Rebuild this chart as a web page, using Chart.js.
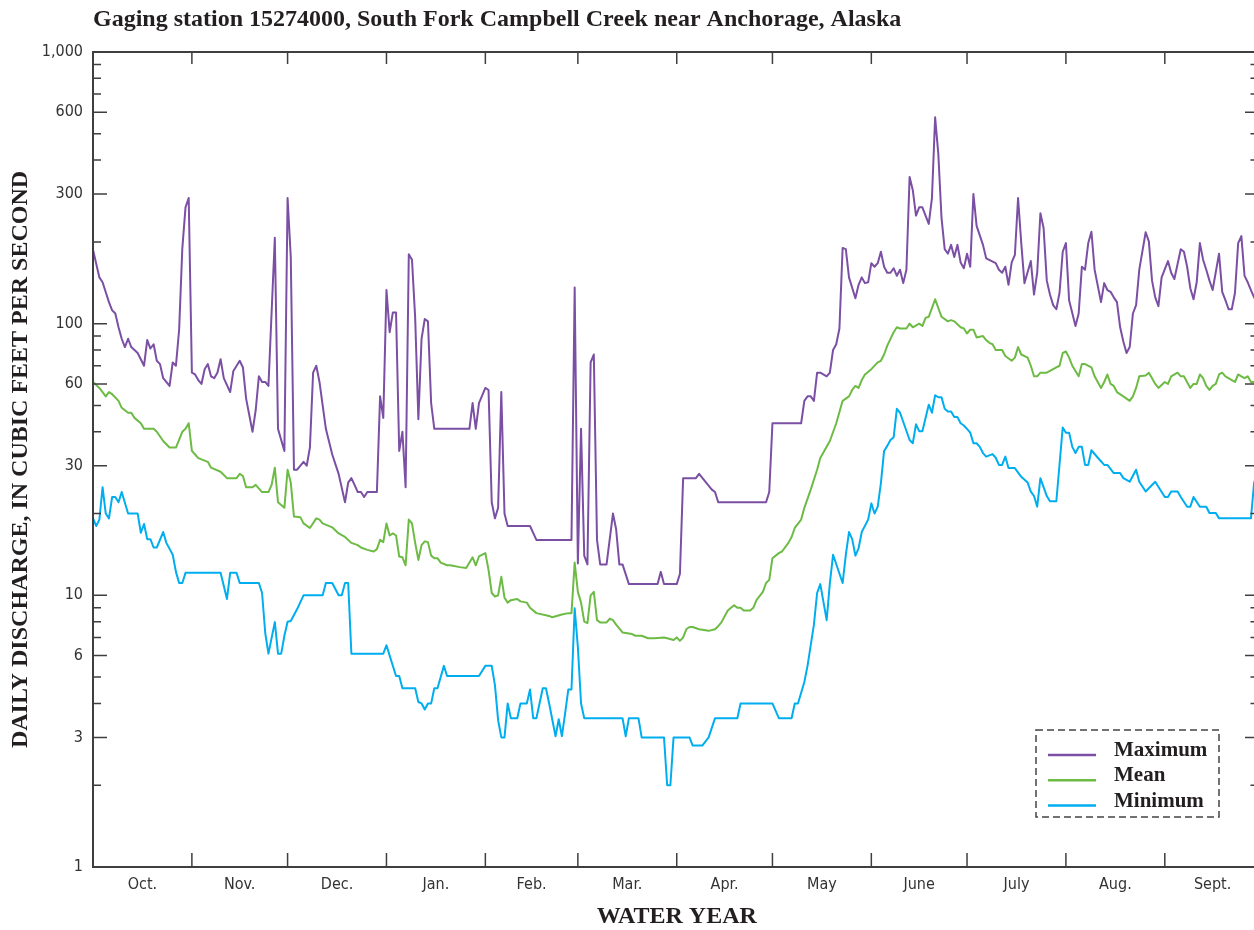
<!DOCTYPE html>
<html>
<head>
<meta charset="utf-8">
<title>Gaging station 15274000, South Fork Campbell Creek near Anchorage, Alaska</title>
<script src="https://cdn.jsdelivr.net/npm/chart.js@4.4.1/dist/chart.umd.min.js"></script>
<style>
  html, body { margin: 0; padding: 0; background: #fff; overflow: hidden; }
  #wrap { width: 1254px; height: 930px; overflow: hidden; }
</style>
</head>
<body>
<div id="wrap"><canvas id="flowChart" width="1262" height="930"></canvas></div>
<script>
// Day of water year (0 = Oct. 1) and daily discharge, cubic feet per second
const maximumFlow = [
  [0,187],[2,148],[3,142],[5,120],[6,112],[7,109],[8,97],[9,88],[10,82],[11,88],[12,82],[14,78],[16,70],[17,87],[18,81],[19,84],[20,73],[21,71],[22,63],[24,59],[25,72],[26,70],[27,95],[28,189],[29,268],[30,290],
  [31,66],[32,65],[33,62],[34,60],[35,68],[36,71],[37,64],[38,63],[39,66],[40,74],[41,63],[43,56],[44,67],[46,73],[47,69],[48,53],[50,40],[51,48],[52,64],[53,61],[54,61],[55,59],[57,207],[58,41],[60,34],
  [61,290],[62,176],[63,29],[64,29],[66,31],[67,30],[68,35],[69,66],[70,70],[71,61],[73,41],[75,33],[77,28],[79,22],[80,26],[81,27],[82,25.5],[83,24],[84,24],[85,23],[86,24],[89,24],[90,54],[91,45],
  [92,133],[93,93],[94,110],[95,110],[96,34],[97,40],[98,25],[99,180],[100,172],[101,105],[102,44.5],[103,88],[104,104],[105,102],[106,51],[107,41],[118,41],[119,51],[120,41],[121,51],
  [123,58],[124,57],[125,22],[126,19.2],[127,21],[128,56],[129,20],[130,18],[137,18],[139,16],[150,16],[151,136],[152,13.1],[153,41],[154,14],[155,13],[156,72],[157,77],[158,16],[159,13],[161,13],
  [163,20],[164,17.5],[165,13],[166,13],[168,11],[177,11],[178,12.2],[179,11],[183,11],[184,12],[185,27],[189,27],[190,28],[194,24.5],[195,24],[196,22],[211,22],[212,24],[213,43],[222,43],
  [223,52],[224,54],[225,54],[226,52],[227,66],[228,66],[230,64],[231,66],[232,80],[233,84],[234,96],[235,190],[236,188],[237,148],[239,124],[240,139],[241,148],[242,141],[243,142],
  [244,167],[245,162],[246,167],[247,184],[248,162],[249,154],[250,154],[251,160],[252,150],[253,158],[254,141],[255,158],[256,347],[257,310],[258,250],[259,268],[260,268],[262,233],[263,290],
  [264,575],[265,421],[266,245],[267,188],[268,181],[269,195],[270,176],[271,195],[272,168],[273,160],[274,181],[275,162],[276,300],[277,229],[279,195],[280,174],[283,167],[284,158],[285,154],
  [286,162],[287,139],[288,168],[289,179],[290,290],[291,198],[292,141],[294,170],[295,128],[296,154],[297,255],[298,225],[299,144],[300,128],[301,117],[302,113],[303,130],[304,184],
  [305,198],[306,122],[308,98],[309,109],[310,162],[311,158],[312,198],[313,218],[314,158],[316,120],[317,141],[318,133],[319,131],[320,125],[321,120],[322,97],[323,86],[324,78],[325,82],
  [326,109],[327,117],[328,158],[330,217],[331,201],[332,144],[333,125],[334,116],[335,148],[337,170],[338,154],[339,146],[341,188],[342,184],[343,162],[344,135],[345,123],[346,142],
  [347,198],[348,172],[349,158],[350,144],[351,133],[353,181],[354,131],[355,122],[356,113],[357,113],[358,130],[359,198],[360,210],[361,150],[362,142],[363,133],[364,125],[365,120]
];

const meanFlow = [
  [0,61],[2,58],[4,54],[5,56],[6,55],[8,52],[9,49],[11,47],[12,47],[13,45],[15,43],[16,41],[17,41],[19,41],[20,40],[22,37],[24,35],[26,35],[28,40],[29,41],[30,43],
  [31,34],[32,33],[33,32],[36,31],[37,29.5],[40,28.5],[42,27],[45,27],[46,28],[47,27.5],[48,25],[50,25],[51,25.5],[53,24],[55,24],[56,25.5],[57,29.5],[58,22],[60,21],
  [61,29],[62,26],[63,19.5],[65,19.4],[66,18.4],[68,17.7],[70,19.2],[71,19],[72,18.4],[75,17.8],[77,16.9],[79,16.4],[81,15.6],[83,15.3],[84,15],[86,14.7],[88,14.5],[89,14.8],[90,16],[91,15.7],
  [92,18.4],[93,16.6],[94,16.9],[95,16.6],[96,13.9],[97,13.8],[98,12.9],[99,19],[100,18.4],[101,15.6],[102,13.5],[103,15.3],[104,15.8],[105,15.7],[106,14],[107,13.7],[108,13.7],[109,13.2],
  [111,12.9],[112,12.9],[115,12.7],[117,12.6],[119,13.8],[120,12.9],[121,13.9],
  [123,14.3],[124,12.4],[125,10.2],[126,9.9],[127,10],[128,11.7],[129,9.8],[130,9.4],[131,9.6],[133,9.7],[134,9.5],[136,9.4],[137,9.0],[139,8.6],[143,8.4],[144,8.3],[147,8.5],[149,8.6],[150,8.6],
  [151,13.2],[152,10.3],[153,9.4],[154,8.0],[155,7.9],[156,10],[157,10.3],[158,8.1],[159,7.95],[161,7.95],[162,8.2],[163,8.1],[164,7.8],[166,7.3],[169,7.2],[170,7.1],[172,7.1],[174,6.95],[176,6.95],
  [179,7.0],[180,6.95],[182,6.85],[183,7.0],[184,6.8],[185,7.0],[186,7.5],[187,7.65],[188,7.65],[190,7.5],[193,7.4],[195,7.5],[196,7.7],[197,7.95],[199,8.8],[200,9.0],[201,9.2],[202,9.0],
  [203,9.0],[204,8.8],[206,8.8],[207,9.0],[208,9.6],[210,10.3],[211,11.1],[212,11.4],[213,13.7],[215,14.3],[216,14.5],[218,15.6],[219,16.4],[220,17.7],[222,19],[223,21],[225,24.5],[227,29],
  [228,32],[231,37],[233,43],[235,52],[237,54],[238,57],[239,59],[240,58],[241,62],[242,65],[244,68],[246,72],[247,73],[248,77],[249,83],[251,93],[252,97],[253,96],[255,96],[256,100],[257,97],
  [259,100],[260,98],[261,105],[262,106],[264,123],[266,106],[268,102],[269,103],[270,102],[272,97],[273,96],[274,92],[275,95],[276,95],[277,89],[279,90],[280,87],[281,85],[282,84],[283,80],
  [285,80],[286,76],[288,73],[289,75],[290,82],[291,77],[293,75],[294,70],[295,64],[296,64],[297,66],[299,66],[301,68],[302,69],[303,70],[304,78],[305,79],[306,75],[307,70],[309,64],[310,71],
  [311,71],[313,69],[314,64],[316,58],[317,61],[318,65],[319,60],[320,59],[321,56],[323,54],[325,52],[326,54],[327,58],[328,64],[330,64.5],[331,66],[332,63],[333,60],[334,58],[336,61],[337,60],
  [338,64],[340,66],[341,64],[342,64],[344,58],[345,60],[346,60],[347,65],[348,63],[349,59],[350,57],[351,59],[352,60],[353,65],[354,66],[355,64],[357,62],[358,61],[359,65],[360,64],[361,63],
  [362,64],[363,61],[364,61],[365,61]
];

const minimumFlow = [
  [0,19.2],[1,18],[2,19],[3,25],[4,20],[5,19.2],[6,23],[7,23],[8,22],[9,24],[11,20],[14,20],[15,17],[16,18.3],[17,16.1],[18,16.1],[19,15],[20,15],[22,17.1],[23,15.6],[25,14.1],[26,12.2],[27,11.1],
  [28,11.1],[29,12.1],[40,12.1],[42,9.7],[43,12.1],[45,12.1],[46,11.1],[52,11.1],[53,10.2],[54,7.25],[55,6.1],[57,7.97],[58,6.1],[59,6.1],[60,7.1],[61,8.0],[62,8.05],[64,8.9],[66,10],[72,10],
  [73,11.1],[75,11.1],[77,10],[78,10],[79,11.1],[80,11.1],[81,6.1],[91,6.1],[92,6.55],[93,6.0],[95,5.05],[96,5.05],[97,4.55],[101,4.55],[102,4.05],[103,4.0],[104,3.8],[105,4.0],[106,4.0],
  [107,4.55],[108,4.55],[110,5.5],[111,5.05],[121,5.05],
  [123,5.5],[125,5.5],[126,4.67],[127,3.47],[128,3.0],[129,3.0],[130,4.0],[131,3.53],[133,3.53],[134,4.0],[136,4.0],[137,4.5],[138,3.53],[139,3.53],[141,4.55],[142,4.55],[143,4.0],[145,3.03],
  [146,3.5],[147,3.03],[148,3.68],[149,4.5],[150,4.5],[151,8.96],[152,6.45],[153,4.0],[154,3.53],[166,3.53],[167,3.03],[168,3.53],[171,3.53],[172,3.0],[179,3.0],[180,2.0],[181,2.0],[182,3.0],
  [187,3.0],[188,2.8],[191,2.8],[193,3.0],[195,3.53],[202,3.53],[203,4.0],[213,4.0],[215,3.53],[219,3.53],[220,4.0],[221,4.0],[223,4.8],[224,5.5],[226,7.8],[227,10.2],[228,11],[230,8.1],
  [231,11.1],[232,14.1],[235,11.1],[236,14.1],[237,17.1],[238,16.1],[239,14],[240,14.9],[241,17.1],[243,19],[244,21.8],[245,20],[246,21.2],[247,25.9],[248,34],[249,35.5],[250,37.3],[251,38.2],
  [252,48.6],[253,47],[256,37.3],[257,36.3],[258,42.6],[259,40.2],[260,40.2],[262,50.3],[263,47],[264,54.5],[265,53.6],[266,53.6],[267,48.6],[268,47.5],[269,47.5],[270,45.3],[271,45.3],
  [272,43],[273,42.2],[274,41],[275,39.7],[276,36.3],[277,36.3],[278,35.2],[279,33.4],[280,32.4],[282,33.1],[283,32.1],[284,30.2],[285,30.2],[286,32.4],[287,29.4],[289,29.4],[291,27.3],
  [293,26],[294,24.1],[295,23.2],[296,21.2],[297,27],[299,23.2],[300,22.2],[302,22.2],[304,41.5],[305,39.7],[306,39.7],[307,35.2],[308,33.4],[309,35.2],[310,35.2],[311,30.2],[312,30.2],
  [313,34.2],[315,32.1],[317,30.2],[318,30.2],[320,28.2],[322,28.2],[323,27.0],[325,26.2],[327,29],[328,26.2],[330,24.1],[333,26.2],[336,23],[337,23],[338,24.1],[340,24.1],[341,23],
  [343,21.2],[344,21.2],[345,23],[347,21.2],[349,21.2],[350,20.1],[352,20.1],[353,19.2],[363,19.2],[364,26],[365,28]
];

// Axis values
const monthLabels = ['Oct.', 'Nov.', 'Dec.', 'Jan.', 'Feb.', 'Mar.', 'Apr.', 'May', 'June', 'July', 'Aug.', 'Sept.'];
const monthStarts = [0, 31, 61, 92, 123, 152, 183, 213, 244, 274, 305, 336, 366];
const yTickValues = [1, 2, 3, 4, 5, 6, 7, 8, 9, 10, 20, 30, 40, 50, 60, 70, 80, 90, 100, 200, 300, 400, 500, 600, 700, 800, 900, 1000];
const yLabelValues = [1, 3, 6, 10, 30, 60, 100, 300, 600, 1000];

const monthCenters = monthLabels.map((m, i) => (monthStarts[i] + monthStarts[i + 1]) / 2);
const toPoints = arr => arr.map(([d, v]) => ({ x: d, y: v }));

const sansNarrow = "'Liberation Sans Narrow', 'DejaVu Sans Condensed', 'Liberation Sans', sans-serif";
const serif = "'Liberation Serif', 'DejaVu Serif', serif";

// Frame, inward tick marks, title and dashed legend box
const decorations = {
  id: 'decorations',
  afterDatasetsDraw(chart) {
    const { ctx, chartArea: a, scales: { x, y } } = chart;
    ctx.save();
    ctx.strokeStyle = '#3f3f3f';
    ctx.lineWidth = 1.5;
    ctx.beginPath();
    monthStarts.slice(1, -1).forEach(d => {
      const px = x.getPixelForValue(d);
      ctx.moveTo(px, a.bottom); ctx.lineTo(px, a.bottom - 14);
      ctx.moveTo(px, a.top); ctx.lineTo(px, a.top + 12);
    });
    yTickValues.forEach(v => {
      const py = y.getPixelForValue(v);
      const major = yLabelValues.includes(v);
      ctx.moveTo(a.left, py); ctx.lineTo(a.left + (major ? 14 : 8), py);
      ctx.moveTo(a.right, py); ctx.lineTo(a.right - (major ? 15.5 : 10), py);
    });
    ctx.stroke();
    ctx.lineWidth = 2;
    ctx.strokeRect(a.left, a.top, a.right - a.left, a.bottom - a.top);

    // chart title
    ctx.fillStyle = '#231f20';
    ctx.font = 'bold 24px ' + serif;
    ctx.textBaseline = 'alphabetic';
    ctx.textAlign = 'left';
    ctx.fillText('Gaging station 15274000, South Fork Campbell Creek near Anchorage, Alaska', a.left, 26);

    // legend
    ctx.strokeStyle = '#444';
    ctx.lineWidth = 1.5;
    ctx.setLineDash([7, 4]);
    ctx.strokeRect(1036, 730, 183, 87);
    ctx.setLineDash([]);
    ctx.font = 'bold 21px ' + serif;
    chart.data.datasets.forEach((ds, i) => {
      const ly = 755 + i * 25.3;
      ctx.strokeStyle = ds.borderColor;
      ctx.lineWidth = 2.5;
      ctx.beginPath();
      ctx.moveTo(1048, ly); ctx.lineTo(1096, ly);
      ctx.stroke();
      ctx.fillStyle = '#231f20';
      ctx.fillText(ds.label, 1114, ly + 1);
    });
    ctx.restore();
  }
};

const ctx = document.getElementById('flowChart').getContext('2d');

const flowChart = new Chart(ctx, {
  type: 'line',
  data: {
    datasets: [
      { label: 'Maximum', data: toPoints(maximumFlow), borderColor: '#7b4fa4', borderWidth: 2 },
      { label: 'Mean', data: toPoints(meanFlow), borderColor: '#6dbb45', borderWidth: 2 },
      { label: 'Minimum', data: toPoints(minimumFlow), borderColor: '#00aeef', borderWidth: 2 }
    ]
  },
  options: {
    responsive: false,
    animation: false,
    devicePixelRatio: 1,
    layout: { padding: { top: 52, right: 1.5, bottom: 0, left: 0 } },
    elements: {
      point: { radius: 0 },
      line: { tension: 0, borderJoinStyle: 'round' }
    },
    plugins: {
      legend: { display: false },
      tooltip: { enabled: false },
      title: { display: false }
    },
    scales: {
      x: {
        type: 'linear',
        min: 0,
        max: 366,
        grid: { display: false, drawTicks: false },
        border: { display: false },
        afterBuildTicks: s => { s.ticks = monthCenters.map(v => ({ value: v })); },
        afterFit: s => { s.height = 63; },
        ticks: {
          autoSkip: false,
          maxRotation: 0,
          padding: 8,
          color: '#333',
          font: { family: sansNarrow, size: 16 },
          callback: (v, i) => monthLabels[i]
        },
        title: {
          display: true,
          text: 'WATER YEAR',
          color: '#231f20',
          font: { family: serif, size: 24, weight: 'bold', lineHeight: 1 },
          padding: { top: 0, bottom: 1 }
        }
      },
      y: {
        type: 'logarithmic',
        min: 1,
        max: 1000,
        grid: { display: false, drawTicks: false },
        border: { display: false },
        afterBuildTicks: s => { s.ticks = yTickValues.map(v => ({ value: v })); },
        afterFit: s => { s.width = 93; },
        ticks: {
          autoSkip: false,
          padding: 10,
          color: '#333',
          font: { family: sansNarrow, size: 16 },
          callback: v => yLabelValues.includes(v) ? v.toLocaleString('en-US') : ''
        },
        title: {
          display: true,
          text: 'DAILY DISCHARGE, IN CUBIC FEET PER SECOND',
          color: '#231f20',
          font: { family: serif, size: 24, weight: 'bold', lineHeight: 1.2 },
          padding: { top: 6, bottom: 0 }
        }
      }
    }
  },
  plugins: [decorations]
});
</script>
</body>
</html>
